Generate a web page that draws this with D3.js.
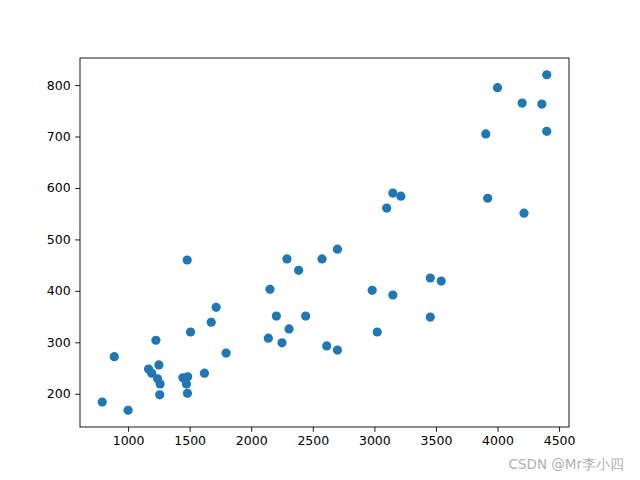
<!DOCTYPE html>
<html>
<head>
<meta charset="utf-8">
<script src="https://cdn.jsdelivr.net/npm/d3@7"></script>
<style>
  html, body { margin: 0; padding: 0; background: #fff; }
  svg { display: block; }
  text { font-family: "DejaVu Sans", sans-serif; }
</style>
</head>
<body>
<script>
// Data
const xValues = [4400, 4000, 4200, 4360, 4400, 3905, 3920, 4215, 3150, 3215, 3100, 2700, 2575, 2290, 2385, 1480, 2152, 2982, 3454, 3543, 3150, 3454, 3023, 2204, 2442, 2307, 2139, 2250, 2613, 2700, 1715, 1675, 1507, 1796, 1226, 888, 1250, 1166, 1192, 1240, 1260, 1257, 1620, 1445, 1484, 1474, 1482, 790, 1000];
const yValues = [820, 795, 765, 763, 710, 705, 580, 551, 590, 584, 561, 481, 462, 462, 440, 460, 403, 401, 425, 419, 392, 349, 320, 351, 351, 326, 308, 299, 293, 285, 368, 339, 320, 279, 304, 272, 256, 248, 240, 229, 219, 198, 240, 231, 233, 219, 201, 184, 168];
const xTicks = [1000, 1500, 2000, 2500, 3000, 3500, 4000, 4500];
const yTicks = [200, 300, 400, 500, 600, 700, 800];
const watermark = "CSDN @Mr李小四";

const W = 640, H = 480;
const mLeft = 80, mRight = 569, mTop = 58, mBottom = 427;

const svg = d3.select("body").append("svg").attr("width", W).attr("height", H);

const points = xValues.map((x, i) => ({x, y: yValues[i]}));
const xMin = d3.min(xValues), xMax = d3.max(xValues);
const yMin = d3.min(yValues), yMax = d3.max(yValues);
const xm = (xMax - xMin) * 0.05, ym = (yMax - yMin) * 0.05;

const x = d3.scaleLinear().domain([xMin - xm, xMax + xm]).range([mLeft, mRight]);
const y = d3.scaleLinear().domain([yMin - ym, yMax + ym]).range([mBottom, mTop]);

const g = svg.append("g");

g.selectAll("circle").data(points).enter().append("circle")
  .attr("cx", d => x(d.x)).attr("cy", d => y(d.y)).attr("r", 4.6)
  .attr("fill", "#1f77b4");

const xAxis = svg.append("g").attr("transform", `translate(0,${mBottom})`)
  .call(d3.axisBottom(x).tickValues(xTicks).tickSize(4.8).tickPadding(4.5).tickFormat(d3.format("d")));
const yAxis = svg.append("g").attr("transform", `translate(${mLeft},0)`)
  .call(d3.axisLeft(y).tickValues(yTicks).tickSize(4.8).tickPadding(4.5).tickFormat(d3.format("d")));

[xAxis, yAxis].forEach(a => {
  a.select(".domain").remove();
  a.selectAll("text").attr("font-size", 12.5).attr("fill", "#000").attr("font-family", "DejaVu Sans, sans-serif");
  a.selectAll("line").attr("stroke", "#000").attr("stroke-width", 0.9);
});

svg.append("rect").attr("x", mLeft).attr("y", mTop)
  .attr("width", mRight - mLeft).attr("height", mBottom - mTop)
  .attr("fill", "none").attr("stroke", "#000").attr("stroke-width", 0.9);

svg.append("text").attr("x", 624).attr("y", 469).attr("text-anchor", "end")
  .attr("font-size", 13.5).attr("fill", "#b0b0b0")
  .attr("font-family", "Noto Sans CJK SC, DejaVu Sans, sans-serif")
  .text(watermark);
</script>
</body>
</html>
